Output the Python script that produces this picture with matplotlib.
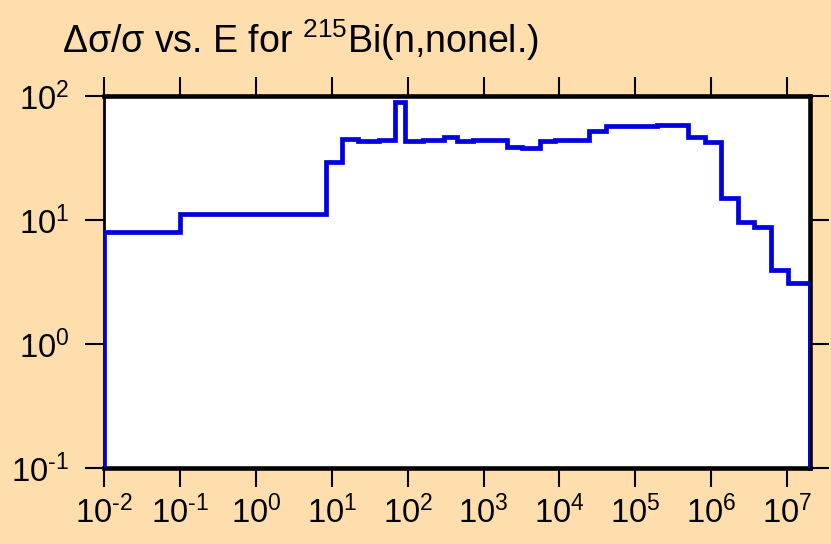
import matplotlib
matplotlib.use("Agg")
import matplotlib.pyplot as plt
from matplotlib.ticker import FixedLocator, FixedFormatter, NullLocator

plt.rcParams['font.family'] = ['Liberation Sans', 'DejaVu Sans']
plt.rcParams['mathtext.fontset'] = 'custom'
plt.rcParams['mathtext.rm'] = 'Liberation Sans'
plt.rcParams['mathtext.it'] = 'Liberation Sans'
plt.rcParams['mathtext.default'] = 'regular'

# Bin edges (eV) and relative uncertainty values (%)
energy_edges = [1e-2, 0.1, 8.3, 13.8, 22, 42, 68, 91, 160, 300, 450, 725, 1230,
                2030, 3200, 5570, 8770, 15100, 24800, 41200, 1.16e5, 1.92e5,
                5.0e5, 8.3e5, 1.35e6, 2.24e6, 3.7e6, 6.1e6, 1.02e7, 2.0e7]
rel_unc = [8.0, 11.1, 29.2, 45.0, 43.5, 44.0, 90.0, 43.6, 43.8, 47.0, 43.6,
           44.2, 44.0, 38.6, 38.3, 43.2, 44.0, 44.5, 52.5, 57.6, 57.8, 58.5,
           47.0, 42.8, 15.0, 9.6, 8.7, 3.95, 3.08]

x_ticks = [1e-2, 1e-1, 1e0, 1e1, 1e2, 1e3, 1e4, 1e5, 1e6, 1e7]
x_exps = ['-2', '-1', '0', '1', '2', '3', '4', '5', '6', '7']
y_ticks = [1e-1, 1e0, 1e1, 1e2]
y_exps = ['-1', '0', '1', '2']


def pow_label(e):
    e = e.replace('-', '\\text{-}')
    return '$\\mathregular{10^{' + e + '}}$'


x_labels = [pow_label(e) for e in x_exps]
y_labels = [pow_label(e) for e in y_exps]

bg = '#FFDEAD'
fig = plt.figure(figsize=(8.31, 5.44), dpi=100, facecolor=bg)
ax = fig.add_axes([104/831, 1-468/544, (810-104)/831, (468-96)/544])
ax.set_facecolor('white')

ax.stairs(rel_unc, energy_edges, baseline=1e-3, fill=False,
          color='#0000E0', linewidth=3.4, zorder=3)

ax.set_xscale('log')
ax.set_yscale('log')
ax.set_xlim(1e-2, 2.0e7)
ax.set_ylim(1e-1, 1e2)

ax.xaxis.set_major_locator(FixedLocator(x_ticks))
ax.xaxis.set_major_formatter(FixedFormatter(x_labels))
ax.yaxis.set_major_locator(FixedLocator(y_ticks))
ax.yaxis.set_major_formatter(FixedFormatter(y_labels))
ax.xaxis.set_minor_locator(NullLocator())
ax.yaxis.set_minor_locator(NullLocator())

ax.tick_params(axis='both', which='major', direction='out', length=14,
               width=1.5, labelsize=23.5, top=True, right=True, color='black')
ax.tick_params(axis='x', pad=6)
ax.tick_params(axis='y', pad=11)

for side in ['top', 'bottom', 'right']:
    ax.spines[side].set_linewidth(3.3)
ax.spines['left'].set_linewidth(2.0)

fig.text(62/831, 1-53/544, 'Δσ/σ vs. E for $\\mathregular{^{215}}$Bi(n,nonel.)',
         fontsize=27, ha='left', va='baseline')

fig.savefig('out.png', dpi=100, facecolor=bg)
